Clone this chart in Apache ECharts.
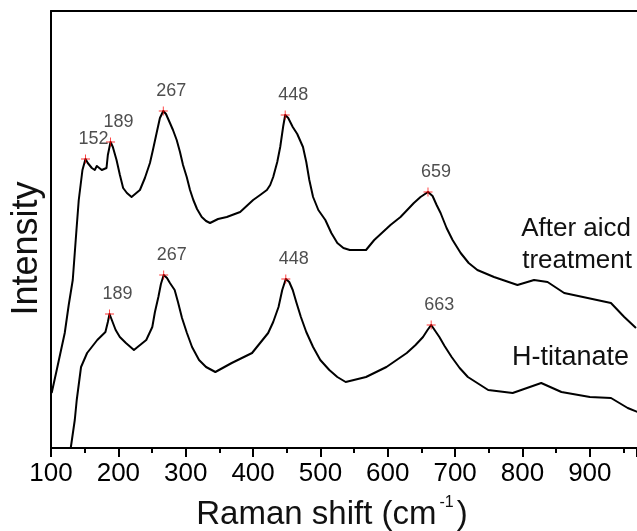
<!DOCTYPE html>
<html><head><meta charset="utf-8">
<script src="https://cdn.jsdelivr.net/npm/echarts@6/dist/echarts.min.js"></script>
<style>html,body{margin:0;padding:0;background:#fff}#c{width:637px;height:531px}</style>
</head><body><div id="c"></div>
<script>
// Tick labels on the x axis
const xTickLabels = [100, 200, 300, 400, 500, 600, 700, 800, 900];

// "After aicd treatment" spectrum (Raman shift, arbitrary intensity)
const acidShift = [101.0, 108.5, 120.4, 126.3, 132.3, 137.8, 141.2, 146.7, 151.2, 154.6, 160.6, 165.0, 168.0, 175.4, 182.4, 184.4, 188.4, 191.8, 197.3, 202.3, 207.1, 212.7, 219.6, 232.0, 239.4, 246.9, 251.3, 256.8, 261.7, 266.7, 270.7, 276.6, 281.1, 286.6, 291.5, 296.0, 301.5, 306.4, 311.3, 316.8, 323.8, 330.2, 336.1, 348.0, 361.0, 380.8, 400.1, 410.5, 420.5, 425.4, 429.9, 435.9, 440.3, 444.8, 447.7, 452.2, 458.9, 465.6, 474.1, 479.0, 483.5, 489.1, 496.9, 507.3, 516.2, 525.1, 534.1, 543.6, 567.7, 579.9, 604.0, 618.9, 638.7, 648.6, 659.7, 666.5, 672.5, 678.4, 687.3, 696.2, 708.2, 720.1, 733.0, 757.7, 792.5, 817.2, 837.2, 861.9, 896.7, 931.3, 951.1, 968.5];
const acidIntensity = [55, 78, 115, 143, 168, 218, 248, 278, 289, 285, 280, 278, 282, 278, 280, 293, 306, 301, 288, 273, 260, 255, 251, 258, 270, 285, 298, 315, 330, 337, 334, 325, 318, 308, 296, 283, 271, 258, 248, 239, 231, 227, 225, 229, 231, 236, 248, 253, 258, 263, 271, 286, 301, 322, 333, 330, 321, 314, 301, 286, 268, 251, 238, 228, 215, 205, 200, 198, 198, 208, 223, 231, 245, 251, 256, 252, 243, 235, 220, 208, 195, 185, 178, 171, 163, 168, 166, 155, 150, 145, 131, 120];

// "H-titanate" spectrum
const hShift = [129.3, 135.3, 138.2, 144.6, 153.6, 168.7, 180.8, 184.4, 186.9, 190.3, 196.0, 202.2, 211.2, 223.1, 241.4, 250.4, 254.3, 259.4, 263.2, 267.3, 272.2, 276.6, 283.6, 288.5, 294.5, 301.8, 309.4, 319.8, 330.2, 344.0, 368.3, 398.5, 422.4, 429.9, 437.8, 443.3, 448.6, 453.7, 458.9, 464.1, 471.0, 479.0, 489.1, 499.8, 513.2, 525.1, 537.5, 567.7, 598.0, 628.2, 641.2, 652.3, 659.0, 664.4, 669.5, 676.6, 684.3, 694.8, 706.7, 718.9, 749.1, 785.4, 827.8, 857.8, 900.1, 931.4, 956.2, 971.0];
const hIntensity = [0, 28, 48, 81, 95, 108, 116, 126, 134, 128, 118, 111, 105, 98, 108, 121, 136, 151, 164, 173, 170, 165, 158, 146, 130, 115, 101, 88, 81, 76, 85, 95, 115, 126, 141, 158, 169, 166, 158, 146, 131, 116, 101, 88, 78, 71, 66, 71, 81, 95, 103, 111, 118, 123, 118, 111, 102, 91, 80, 71, 58, 55, 65, 56, 51, 50, 40, 36];

// Marked peaks
const acidPeakShift = [151.2, 188.4, 266.7, 447.7, 659.7];
const acidPeakIntensity = [289, 306, 337, 333, 256];
const acidPeakLabels = ['152', '189', '267', '448', '659'];
const hPeakShift = [186.9, 267.3, 448.6, 664.4];
const hPeakIntensity = [134, 173, 169, 123];
const hPeakLabels = ['189', '267', '448', '663'];

const FONT = 'Liberation Sans, Arial, sans-serif';
const zip = (a, b) => a.map((v, i) => [v, b[i]]);
const plusPath = 'path://M4.5,0h1v10h-1z M0,4.5h10v1h-10z';

function peakSeries(xs, ys, labels) {
  return {
    type: 'scatter',
    data: xs.map((x, i) => ({ value: [x, ys[i]], name: labels[i] })),
    symbol: plusPath,
    symbolSize: 9,
    itemStyle: { color: '#ff0000' },
    z: 5,
    silent: true,
    label: {
      show: true, position: 'top', offset: [8, -1],
      formatter: p => p.name,
      fontFamily: FONT, fontSize: 18, color: '#222'
    }
  };
}

const chart = echarts.init(document.getElementById('c'), null, { renderer: 'canvas' });
chart.setOption({
  animation: false,
  backgroundColor: '#fff',
  grid: { left: 51, right: 0, top: 11, bottom: 83, containLabel: false, outerBoundsMode: 'none' },
  xAxis: [{
    type: 'value', min: 100, max: 970, interval: 100, position: 'bottom',
    axisLine: { show: true, lineStyle: { color: '#000', width: 2 } },
    axisTick: { show: true, inside: false, length: 9, lineStyle: { color: '#000', width: 2 } },
    minorTick: { show: true, splitNumber: 2, length: 5, lineStyle: { color: '#000', width: 2 } },
    splitLine: { show: false },
    axisLabel: {
      showMaxLabel: false, margin: 13, fontFamily: FONT, fontSize: 26, color: '#000',
      formatter: v => (xTickLabels.indexOf(v) >= 0 ? String(v) : '')
    },
    name: '{b|Raman shift (cm}{sup|-1}{b|)}',
    nameLocation: 'middle', nameGap: 36,
    nameTextStyle: {
      fontFamily: FONT, fontSize: 33, color: '#111', padding: [0, 24, 0, 0],
      rich: {
        b: { fontFamily: FONT, fontSize: 33, color: '#111', lineHeight: 40, verticalAlign: 'bottom' },
        sup: { fontFamily: FONT, fontSize: 16, color: '#111', lineHeight: 40, verticalAlign: 'top', padding: [3, 3, 0, 3] }
      }
    }
  }, {
    type: 'value', min: 100, max: 970, position: 'top',
    axisLine: { show: true, lineStyle: { color: '#000', width: 2 } },
    axisTick: { show: false }, axisLabel: { show: false }, splitLine: { show: false }
  }],
  yAxis: {
    type: 'value', min: 0, max: 437,
    axisLine: { show: true, lineStyle: { color: '#000', width: 2 } },
    axisTick: { show: false }, axisLabel: { show: false }, splitLine: { show: false },
    name: 'Intensity', nameLocation: 'middle', nameRotate: 90, nameGap: 6,
    nameTextStyle: { fontFamily: FONT, fontSize: 36, color: '#111', padding: [0, 38, 0, 0] }
  },
  series: [
    { type: 'line', data: zip(acidShift, acidIntensity), showSymbol: false, symbol: 'none',
      lineStyle: { color: '#000', width: 2, join: 'round' }, z: 2, silent: true },
    { type: 'line', data: zip(hShift, hIntensity), showSymbol: false, symbol: 'none',
      lineStyle: { color: '#000', width: 2, join: 'round' }, z: 2, silent: true },
    peakSeries(acidPeakShift, acidPeakIntensity, acidPeakLabels),
    peakSeries(hPeakShift, hPeakIntensity, hPeakLabels)
  ],
  graphic: [
    { type: 'text', right: 6, top: 216, style: { text: 'After aicd', fontFamily: FONT, fontSize: 26, fill: '#111' } },
    { type: 'text', right: 5, top: 248, style: { text: 'treatment', fontFamily: FONT, fontSize: 26, fill: '#111' } },
    { type: 'text', right: 8, top: 344, style: { text: 'H-titanate', fontFamily: FONT, fontSize: 27, fill: '#111' } }
  ]
});
</script>
</body></html>
